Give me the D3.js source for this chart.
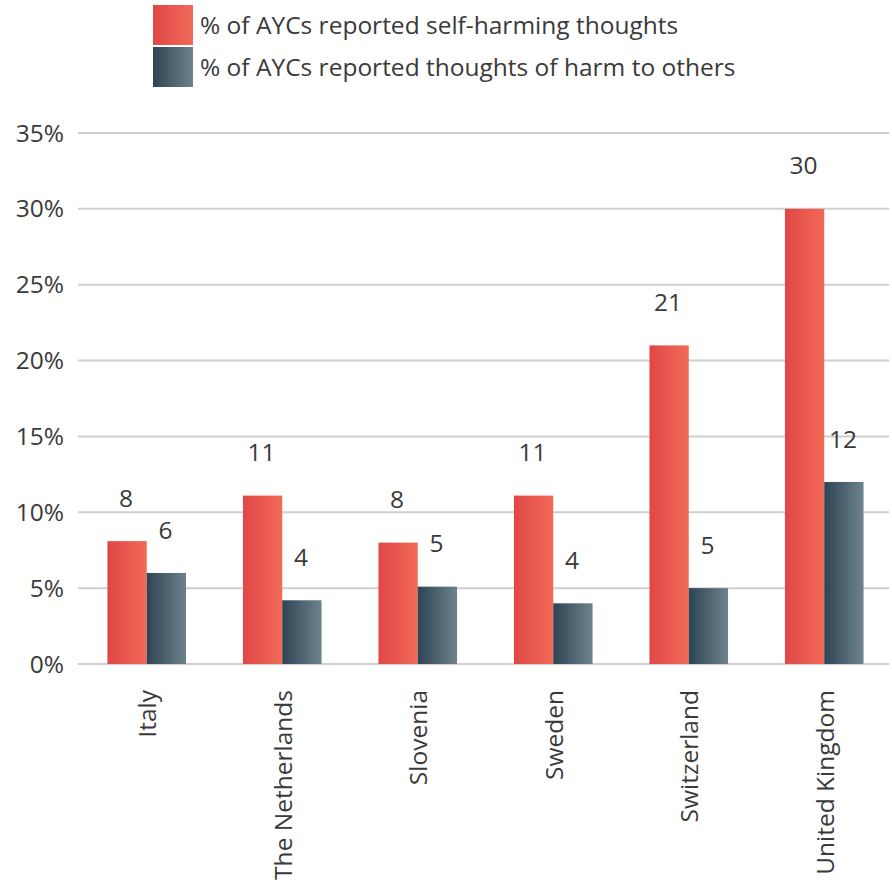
<!DOCTYPE html>
<html lang="en">
<head>
    <meta charset="UTF-8">
    <title>AYCs reported harming thoughts</title>
    <script src="https://d3js.org/d3.v7.min.js"></script>
    <style>
        body {
            margin: 0;
            background: #ffffff;
            font-family: 'Open Sans', sans-serif;
        }
        .tick-label, .value-label, .cat-label, .legend-text {
            fill: #3a3a3a;
        }
        .grid line {
            stroke: #cfcfcf;
            stroke-width: 2px;
        }
    </style>
</head>
<body>
    <div id="chart"></div>
    <script>
        const countries = ["Italy", "The Netherlands", "Slovenia", "Sweden", "Switzerland", "United Kingdom"];
        const selfHarm = [8.1, 11.1, 8.0, 11.1, 21.0, 30.0];
        const harmOthers = [6.0, 4.2, 5.1, 4.0, 5.0, 12.0];
        const selfHarmLabels = ["8", "11", "8", "11", "21", "30"];
        const harmOthersLabels = ["6", "4", "5", "4", "5", "12"];
        const seriesNames = ["% of AYCs reported self-harming thoughts", "% of AYCs reported thoughts of harm to others"];
        const yTicks = [0, 5, 10, 15, 20, 25, 30, 35];

        const width = 892, height = 886;
        const fontSize = "24.5px";

        const svg = d3.select("#chart")
            .append("svg")
            .attr("width", width)
            .attr("height", height);

        const defs = svg.append("defs");
        const gradRed = defs.append("linearGradient").attr("id", "gRed");
        gradRed.append("stop").attr("offset", "0%").attr("stop-color", "#e04747");
        gradRed.append("stop").attr("offset", "100%").attr("stop-color", "#f26a57");
        const gradDark = defs.append("linearGradient").attr("id", "gDark");
        gradDark.append("stop").attr("offset", "0%").attr("stop-color", "#2e4453");
        gradDark.append("stop").attr("offset", "100%").attr("stop-color", "#6d838c");

        const y = d3.scaleLinear().domain([0, 35]).range([664, 133]);

        const x = d3.scaleBand()
            .domain(countries)
            .range([79, 892])
            .paddingInner(0.42)
            .paddingOuter(0.21);

        const xSub = d3.scaleBand()
            .domain([0, 1])
            .range([0, x.bandwidth()]);

        // gridlines
        const grid = svg.append("g").attr("class", "grid");
        grid.selectAll("line")
            .data(yTicks)
            .enter()
            .append("line")
            .attr("x1", 78)
            .attr("x2", 889)
            .attr("y1", d => y(d))
            .attr("y2", d => y(d));

        svg.append("g")
            .selectAll("text")
            .data(yTicks)
            .enter()
            .append("text")
            .attr("class", "tick-label")
            .attr("x", 64)
            .attr("y", d => y(d))
            .attr("dy", "0.35em")
            .attr("text-anchor", "end")
            .style("font-size", fontSize)
            .text(d => d + "%");

        const series = [
            { values: selfHarm, labels: selfHarmLabels, fill: "url(#gRed)" },
            { values: harmOthers, labels: harmOthersLabels, fill: "url(#gDark)" }
        ];

        series.forEach((s, i) => {
            const g = svg.append("g");
            g.selectAll("rect")
                .data(countries)
                .enter()
                .append("rect")
                .attr("x", c => x(c) + xSub(i))
                .attr("width", xSub.bandwidth())
                .attr("y", (c, j) => y(s.values[j]))
                .attr("height", (c, j) => y(0) - y(s.values[j]))
                .attr("fill", s.fill);

            g.selectAll("text")
                .data(countries)
                .enter()
                .append("text")
                .attr("class", "value-label")
                .attr("x", c => x(c) + xSub(i) + xSub.bandwidth() / 2 - 1)
                .attr("y", (c, j) => y(s.values[j]) - 43)
                .attr("dy", "0.35em")
                .attr("text-anchor", "middle")
                .style("font-size", fontSize)
                .text((c, j) => s.labels[j]);
        });

        // category labels
        svg.append("g")
            .selectAll("text")
            .data(countries)
            .enter()
            .append("text")
            .attr("class", "cat-label")
            .attr("transform", c => `translate(${x(c) + x.bandwidth() / 2 + 1},690) rotate(-90)`)
            .attr("dy", "0.35em")
            .attr("text-anchor", "end")
            .style("font-size", fontSize)
            .text(c => c);

        // legend
        const legend = svg.append("g");
        const legendFills = ["url(#gRed)", "url(#gDark)"];
        seriesNames.forEach((name, i) => {
            legend.append("rect")
                .attr("x", 153)
                .attr("y", 5 + i * 42)
                .attr("width", 40)
                .attr("height", 40)
                .attr("fill", legendFills[i]);
            legend.append("text")
                .attr("class", "legend-text")
                .attr("x", 200)
                .attr("y", 25 + i * 42)
                .attr("dy", "0.35em")
                .style("font-size", fontSize)
                .text(name);
        });
    </script>
</body>
</html>
